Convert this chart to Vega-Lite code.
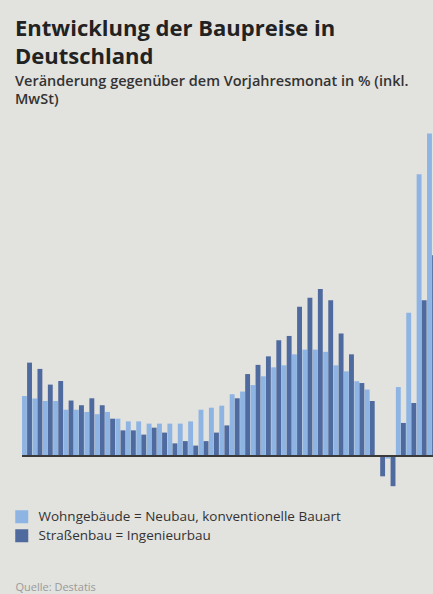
{
  "$schema": "https://vega.github.io/schema/vega-lite/v6.json",
  "width": 411,
  "height": 370,
  "autosize": {"type": "none"},
  "padding": {"left": 22, "top": 120, "right": 0, "bottom": 104},
  "background": "#e2e2de",
  "config": {"view": {"stroke": null}, "font": "Open Sans"},
  "title": {
    "text": ["Entwicklung der Baupreise in", "Deutschland"],
    "subtitle": ["Veränderung gegenüber dem Vorjahresmonat in % (inkl.", "MwSt)"],
    "anchor": "start",
    "frame": "group",
    "dx": -7,
    "offset": 13,
    "font": "Open Sans",
    "fontSize": 22,
    "fontWeight": "bold",
    "color": "#222222",
    "lineHeight": 28,
    "subtitleFont": "Open Sans",
    "subtitleFontSize": 14.5,
    "subtitleFontWeight": 600,
    "subtitleColor": "#333333",
    "subtitleLineHeight": 18,
    "subtitlePadding": 6
  },
  "datasets": {
    "baupreise": [
      {"quartal": "2012-02", "reihe": "Wohngebäude = Neubau, konventionelle Bauart", "wert": 2.69},
      {"quartal": "2012-05", "reihe": "Wohngebäude = Neubau, konventionelle Bauart", "wert": 2.58},
      {"quartal": "2012-08", "reihe": "Wohngebäude = Neubau, konventionelle Bauart", "wert": 2.47},
      {"quartal": "2012-11", "reihe": "Wohngebäude = Neubau, konventionelle Bauart", "wert": 2.47},
      {"quartal": "2013-02", "reihe": "Wohngebäude = Neubau, konventionelle Bauart", "wert": 2.08},
      {"quartal": "2013-05", "reihe": "Wohngebäude = Neubau, konventionelle Bauart", "wert": 2.08},
      {"quartal": "2013-08", "reihe": "Wohngebäude = Neubau, konventionelle Bauart", "wert": 1.98},
      {"quartal": "2013-11", "reihe": "Wohngebäude = Neubau, konventionelle Bauart", "wert": 1.88},
      {"quartal": "2014-02", "reihe": "Wohngebäude = Neubau, konventionelle Bauart", "wert": 1.98},
      {"quartal": "2014-05", "reihe": "Wohngebäude = Neubau, konventionelle Bauart", "wert": 1.68},
      {"quartal": "2014-08", "reihe": "Wohngebäude = Neubau, konventionelle Bauart", "wert": 1.56},
      {"quartal": "2014-11", "reihe": "Wohngebäude = Neubau, konventionelle Bauart", "wert": 1.56},
      {"quartal": "2015-02", "reihe": "Wohngebäude = Neubau, konventionelle Bauart", "wert": 1.46},
      {"quartal": "2015-05", "reihe": "Wohngebäude = Neubau, konventionelle Bauart", "wert": 1.46},
      {"quartal": "2015-08", "reihe": "Wohngebäude = Neubau, konventionelle Bauart", "wert": 1.46},
      {"quartal": "2015-11", "reihe": "Wohngebäude = Neubau, konventionelle Bauart", "wert": 1.46},
      {"quartal": "2016-02", "reihe": "Wohngebäude = Neubau, konventionelle Bauart", "wert": 1.56},
      {"quartal": "2016-05", "reihe": "Wohngebäude = Neubau, konventionelle Bauart", "wert": 2.08},
      {"quartal": "2016-08", "reihe": "Wohngebäude = Neubau, konventionelle Bauart", "wert": 2.17},
      {"quartal": "2016-11", "reihe": "Wohngebäude = Neubau, konventionelle Bauart", "wert": 2.26},
      {"quartal": "2017-02", "reihe": "Wohngebäude = Neubau, konventionelle Bauart", "wert": 2.77},
      {"quartal": "2017-05", "reihe": "Wohngebäude = Neubau, konventionelle Bauart", "wert": 2.89},
      {"quartal": "2017-08", "reihe": "Wohngebäude = Neubau, konventionelle Bauart", "wert": 3.18},
      {"quartal": "2017-11", "reihe": "Wohngebäude = Neubau, konventionelle Bauart", "wert": 3.57},
      {"quartal": "2018-02", "reihe": "Wohngebäude = Neubau, konventionelle Bauart", "wert": 3.97},
      {"quartal": "2018-05", "reihe": "Wohngebäude = Neubau, konventionelle Bauart", "wert": 4.06},
      {"quartal": "2018-08", "reihe": "Wohngebäude = Neubau, konventionelle Bauart", "wert": 4.55},
      {"quartal": "2018-11", "reihe": "Wohngebäude = Neubau, konventionelle Bauart", "wert": 4.76},
      {"quartal": "2019-02", "reihe": "Wohngebäude = Neubau, konventionelle Bauart", "wert": 4.76},
      {"quartal": "2019-05", "reihe": "Wohngebäude = Neubau, konventionelle Bauart", "wert": 4.66},
      {"quartal": "2019-08", "reihe": "Wohngebäude = Neubau, konventionelle Bauart", "wert": 4.06},
      {"quartal": "2019-11", "reihe": "Wohngebäude = Neubau, konventionelle Bauart", "wert": 3.79},
      {"quartal": "2020-02", "reihe": "Wohngebäude = Neubau, konventionelle Bauart", "wert": 3.35},
      {"quartal": "2020-05", "reihe": "Wohngebäude = Neubau, konventionelle Bauart", "wert": 2.98},
      {"quartal": "2020-08", "reihe": "Wohngebäude = Neubau, konventionelle Bauart", "wert": 0.0},
      {"quartal": "2020-11", "reihe": "Wohngebäude = Neubau, konventionelle Bauart", "wert": -0.1},
      {"quartal": "2021-02", "reihe": "Wohngebäude = Neubau, konventionelle Bauart", "wert": 3.09},
      {"quartal": "2021-05", "reihe": "Wohngebäude = Neubau, konventionelle Bauart", "wert": 6.4},
      {"quartal": "2021-08", "reihe": "Wohngebäude = Neubau, konventionelle Bauart", "wert": 12.58},
      {"quartal": "2021-11", "reihe": "Wohngebäude = Neubau, konventionelle Bauart", "wert": 14.4},
      {"quartal": "2012-02", "reihe": "Straßenbau = Ingenieurbau", "wert": 4.18},
      {"quartal": "2012-05", "reihe": "Straßenbau = Ingenieurbau", "wert": 3.9},
      {"quartal": "2012-08", "reihe": "Straßenbau = Ingenieurbau", "wert": 3.2},
      {"quartal": "2012-11", "reihe": "Straßenbau = Ingenieurbau", "wert": 3.36},
      {"quartal": "2013-02", "reihe": "Straßenbau = Ingenieurbau", "wert": 2.49},
      {"quartal": "2013-05", "reihe": "Straßenbau = Ingenieurbau", "wert": 2.28},
      {"quartal": "2013-08", "reihe": "Straßenbau = Ingenieurbau", "wert": 2.59},
      {"quartal": "2013-11", "reihe": "Straßenbau = Ingenieurbau", "wert": 2.28},
      {"quartal": "2014-02", "reihe": "Straßenbau = Ingenieurbau", "wert": 1.68},
      {"quartal": "2014-05", "reihe": "Straßenbau = Ingenieurbau", "wert": 1.16},
      {"quartal": "2014-08", "reihe": "Straßenbau = Ingenieurbau", "wert": 1.16},
      {"quartal": "2014-11", "reihe": "Straßenbau = Ingenieurbau", "wert": 0.97},
      {"quartal": "2015-02", "reihe": "Straßenbau = Ingenieurbau", "wert": 1.28},
      {"quartal": "2015-05", "reihe": "Straßenbau = Ingenieurbau", "wert": 1.06},
      {"quartal": "2015-08", "reihe": "Straßenbau = Ingenieurbau", "wert": 0.58},
      {"quartal": "2015-11", "reihe": "Straßenbau = Ingenieurbau", "wert": 0.68},
      {"quartal": "2016-02", "reihe": "Straßenbau = Ingenieurbau", "wert": 0.48},
      {"quartal": "2016-05", "reihe": "Straßenbau = Ingenieurbau", "wert": 0.68},
      {"quartal": "2016-08", "reihe": "Straßenbau = Ingenieurbau", "wert": 1.06},
      {"quartal": "2016-11", "reihe": "Straßenbau = Ingenieurbau", "wert": 1.38},
      {"quartal": "2017-02", "reihe": "Straßenbau = Ingenieurbau", "wert": 2.59},
      {"quartal": "2017-05", "reihe": "Straßenbau = Ingenieurbau", "wert": 3.67},
      {"quartal": "2017-08", "reihe": "Straßenbau = Ingenieurbau", "wert": 4.08},
      {"quartal": "2017-11", "reihe": "Straßenbau = Ingenieurbau", "wert": 4.46},
      {"quartal": "2018-02", "reihe": "Straßenbau = Ingenieurbau", "wert": 5.18},
      {"quartal": "2018-05", "reihe": "Straßenbau = Ingenieurbau", "wert": 5.37},
      {"quartal": "2018-08", "reihe": "Straßenbau = Ingenieurbau", "wert": 6.67},
      {"quartal": "2018-11", "reihe": "Straßenbau = Ingenieurbau", "wert": 7.07},
      {"quartal": "2019-02", "reihe": "Straßenbau = Ingenieurbau", "wert": 7.46},
      {"quartal": "2019-05", "reihe": "Straßenbau = Ingenieurbau", "wert": 6.96},
      {"quartal": "2019-08", "reihe": "Straßenbau = Ingenieurbau", "wert": 5.48},
      {"quartal": "2019-11", "reihe": "Straßenbau = Ingenieurbau", "wert": 4.55},
      {"quartal": "2020-02", "reihe": "Straßenbau = Ingenieurbau", "wert": 3.27},
      {"quartal": "2020-05", "reihe": "Straßenbau = Ingenieurbau", "wert": 2.47},
      {"quartal": "2020-08", "reihe": "Straßenbau = Ingenieurbau", "wert": -0.89},
      {"quartal": "2020-11", "reihe": "Straßenbau = Ingenieurbau", "wert": -1.33},
      {"quartal": "2021-02", "reihe": "Straßenbau = Ingenieurbau", "wert": 1.49},
      {"quartal": "2021-05", "reihe": "Straßenbau = Ingenieurbau", "wert": 2.38},
      {"quartal": "2021-08", "reihe": "Straßenbau = Ingenieurbau", "wert": 6.96},
      {"quartal": "2021-11", "reihe": "Straßenbau = Ingenieurbau", "wert": 8.97}
    ]
  },
  "data": {"name": "baupreise"},
  "layer": [
    {
      "mark": {"type": "bar", "clip": true},
      "encoding": {
        "x": {
          "field": "quartal",
          "type": "ordinal",
          "scale": {"range": [0, 415], "paddingInner": 0.04, "paddingOuter": 0},
          "axis": {
            "labels": false,
            "ticks": false,
            "domain": false,
            "grid": false,
            "title": "Quelle: Destatis",
            "titleAnchor": "start",
            "titleAlign": "left",
            "titleBaseline": "alphabetic",
            "titleX": -7,
            "titleY": 100,
            "titleColor": "#9a9a9a",
            "titleFont": "Open Sans",
            "titleFontSize": 11,
            "titleFontWeight": "normal"
          }
        },
        "xOffset": {
          "field": "reihe",
          "scale": {"domain": ["Wohngebäude = Neubau, konventionelle Bauart", "Straßenbau = Ingenieurbau"], "paddingInner": 0.04}
        },
        "y": {
          "field": "wert",
          "type": "quantitative",
          "scale": {"domain": [-1.5, 15], "nice": false, "zero": true},
          "axis": null
        },
        "color": {
          "field": "reihe",
          "type": "nominal",
          "scale": {
            "domain": ["Wohngebäude = Neubau, konventionelle Bauart", "Straßenbau = Ingenieurbau"],
            "range": ["#8db4e2", "#4f6a9e"]
          },
          "legend": {
            "title": null,
            "orient": "none",
            "legendX": -7,
            "legendY": 390,
            "padding": 0,
            "symbolType": "square",
            "symbolSize": 169,
            "symbolStrokeWidth": 0,
            "symbolOpacity": 1,
            "labelFont": "Open Sans",
            "labelFontSize": 13.5,
            "labelColor": "#333333",
            "labelOffset": 10,
            "labelLimit": 400,
            "rowPadding": 4
          }
        }
      }
    },
    {
      "mark": {"type": "rule", "color": "#3a3a3a", "strokeWidth": 1.5},
      "encoding": {"y": {"datum": 0}}
    }
  ]
}
